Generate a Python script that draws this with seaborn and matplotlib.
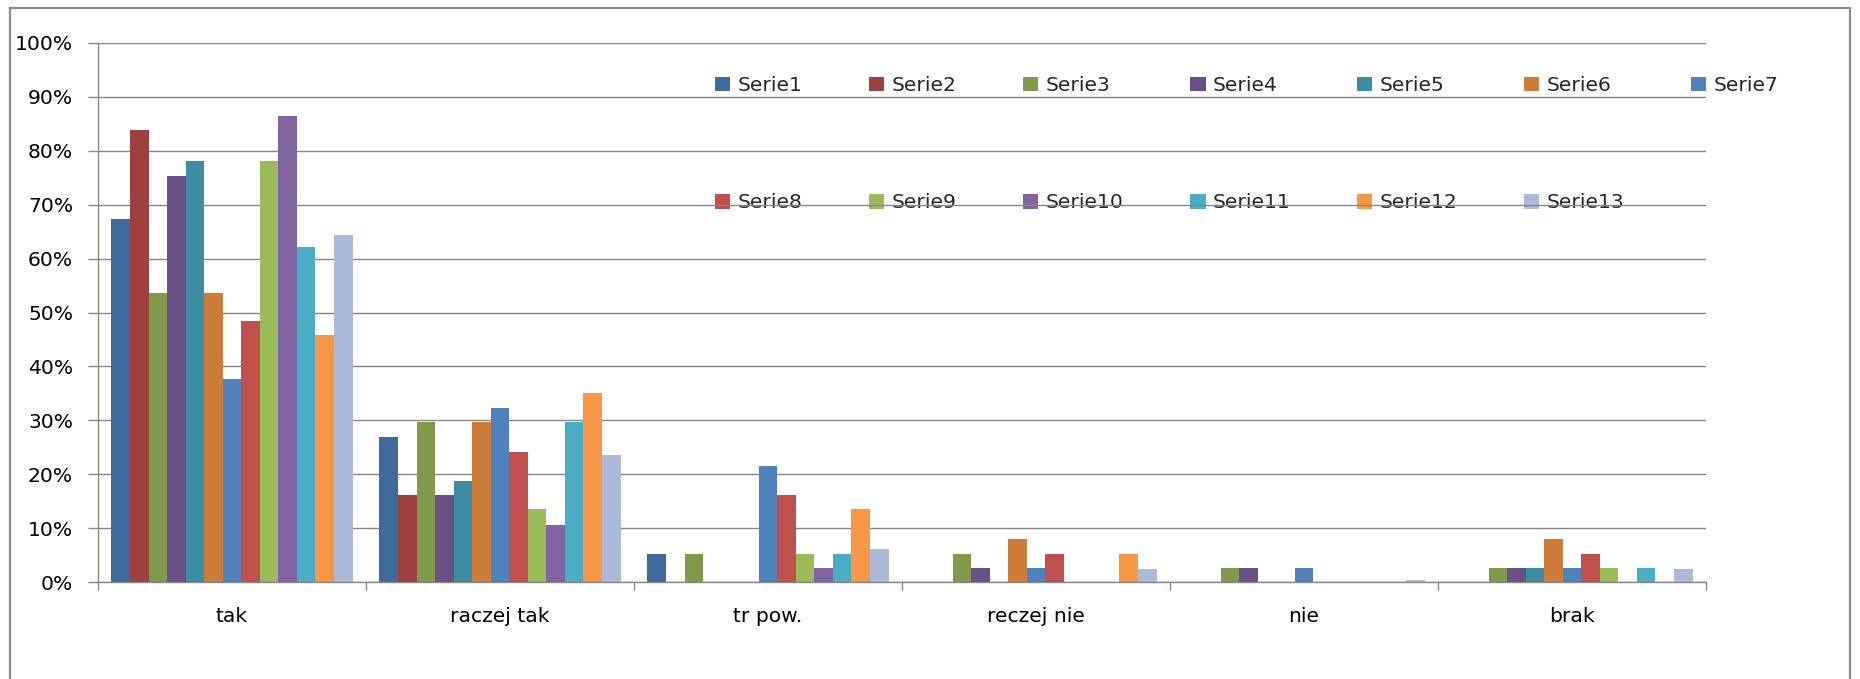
import numpy as np
import pandas as pd
import matplotlib
matplotlib.use("Agg")
import matplotlib.pyplot as plt
import seaborn as sns
from matplotlib.ticker import PercentFormatter, FixedLocator
from matplotlib.patches import Rectangle

# ---------------- data ----------------
categories = ["tak", "raczej tak", "tr pow.", "reczej nie", "nie", "brak"]
series = [f"Serie{i}" for i in range(1, 14)]

# values in percent, one list per category (Serie1 ... Serie13)
tak = [67.3, 83.8, 53.7, 75.4, 78.2, 53.7, 37.6, 48.5, 78.2, 86.4, 62.1, 45.8, 64.3]
raczej_tak = [26.9, 16.1, 29.7, 16.1, 18.7, 29.7, 32.3, 24.1, 13.5, 10.6, 29.7, 35.1, 23.6]
tr_pow = [5.2, 0, 5.2, 0, 0, 0, 21.5, 16.1, 5.2, 2.6, 5.2, 13.5, 6.1]
reczej_nie = [0, 0, 5.2, 2.6, 0, 8.0, 2.6, 5.2, 0, 0, 0, 5.2, 2.4]
nie = [0, 0, 2.6, 2.6, 0, 0, 2.6, 0, 0, 0, 0, 0, 0.4]
brak = [0, 0, 2.6, 2.6, 2.6, 8.0, 2.6, 5.2, 2.6, 0, 2.6, 0, 2.4]

colors = ["#3F6A9C", "#9E403E", "#7F9A4A", "#695086", "#3C8CA4", "#CC7B39",
          "#4F81BD", "#C0504D", "#9BBB59", "#8064A2", "#4BACC6", "#F79646",
          "#AABAD7"]

rows = []
for cat, vals in zip(categories, [tak, raczej_tak, tr_pow, reczej_nie, nie, brak]):
    for s, v in zip(series, vals):
        rows.append({"kategoria": cat, "seria": s, "wartosc": v / 100.0})
df = pd.DataFrame(rows)

# ---------------- style ----------------
sns.set_theme(style="white")
plt.rcParams["font.family"] = ["DejaVu Sans"]
GRID = "#868686"
FS = 14.6

W, H = 1860, 679
fig = plt.figure(figsize=(W / 100, H / 100), dpi=100)
fig.patch.set_facecolor("white")
ax = fig.add_axes([98 / W, 1 - 582 / H, (1706 - 98) / W, (582 - 43) / H])

sns.barplot(data=df, x="kategoria", y="wartosc", hue="seria",
            order=categories, hue_order=series, palette=colors,
            width=0.9, errorbar=None, saturation=1, linewidth=0,
            ax=ax, zorder=2)

ax.set_xlim(-0.5, 5.5)
ax.set_ylim(0, 1)
ax.set_xlabel("")
ax.set_ylabel("")

ax.yaxis.set_major_locator(FixedLocator(np.arange(0, 1.001, 0.1)))
ax.yaxis.set_major_formatter(PercentFormatter(1.0, decimals=0))
ax.grid(axis="y", color=GRID, linewidth=1.0)
ax.grid(axis="x", visible=False)
ax.set_axisbelow(True)

for side in ["top", "right"]:
    ax.spines[side].set_visible(False)
for side in ["left", "bottom"]:
    ax.spines[side].set_color(GRID)
    ax.spines[side].set_linewidth(1.0)

ax.tick_params(axis="y", which="major", left=True, length=7, width=1.0,
               color=GRID, direction="out", pad=11, labelsize=FS,
               labelcolor="black")
ax.set_xticks(range(len(categories)))
ax.set_xticklabels(categories)
ax.set_xticks(np.arange(-0.5, len(categories), 1.0), minor=True)
ax.tick_params(axis="x", which="major", bottom=True, length=0, pad=18,
               labelsize=FS, labelcolor="black")
ax.tick_params(axis="x", which="minor", bottom=True, length=6, width=1.0,
               color=GRID, direction="out")

# ---------------- legend ----------------
handles, labels = ax.get_legend_handles_labels()
if ax.get_legend() is not None:
    ax.get_legend().remove()
order = [0, 7, 1, 8, 2, 9, 3, 10, 4, 11, 5, 12, 6]
leg = ax.legend([handles[i] for i in order], [labels[i] for i in order],
                ncol=7, loc="upper left",
                bbox_to_anchor=(715 / W, 1 - 76 / H),
                bbox_transform=fig.transFigure, frameon=False,
                fontsize=FS, handlelength=0.75, handleheight=0.75,
                handletextpad=0.35, columnspacing=3.3, labelspacing=4.85,
                borderpad=0, borderaxespad=0)
leg.set_zorder(0.3)

# outer chart border (bottom edge lies outside the image)
fig.patches.append(Rectangle((10 / W, -0.1), (1850 - 10) / W, 1.1 - 8.5 / H,
                             transform=fig.transFigure, fill=False,
                             edgecolor="#8C8C8C", linewidth=1.6))

fig.savefig("out.png", dpi=100)
